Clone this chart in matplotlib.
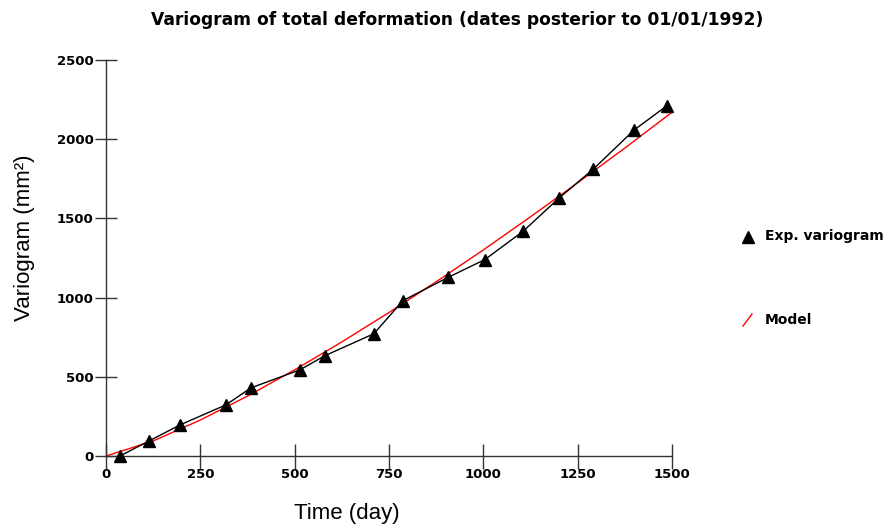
import matplotlib
matplotlib.use("Agg")
import matplotlib.pyplot as plt
from matplotlib.lines import Line2D

exp_days = [37, 114, 196, 318, 384, 514, 580, 710, 787, 906, 1004, 1105, 1200, 1291, 1399, 1487]
exp_values = [0, 95, 196, 323, 430, 544, 633, 772, 981, 1127, 1240, 1418, 1627, 1810, 2057, 2212]

# Model curve
model_days = [0, 125, 250, 375, 500, 625, 750, 875, 1000, 1125, 1250, 1375, 1500]
model_values = [0, 95, 227, 378, 544, 720, 906, 1100, 1301, 1510, 1725, 1944, 2170]

x_ticks = [0, 250, 500, 750, 1000, 1250, 1500]
y_ticks = [0, 500, 1000, 1500, 2000, 2500]

plt.rcParams['font.family'] = ['Liberation Sans', 'DejaVu Sans']
BOLDFONT = ['DejaVu Sans']

fig = plt.figure(figsize=(8.87, 5.25), dpi=100)
ax = fig.add_axes([106/887, 1 - 456/525, (672-106)/887, (456-60)/525])

ax.plot(model_days, model_values, color='red', lw=1.0, zorder=2)
ax.plot(exp_days, exp_values, color='black', lw=1.0, marker='^', markersize=9,
        markerfacecolor='black', markeredgecolor='black', zorder=3, clip_on=False)

ax.set_xlim(0, 1500)
ax.set_ylim(0, 2500)
ax.set_xticks(x_ticks)
ax.set_yticks(y_ticks)
ax.set_xticklabels([str(v) for v in x_ticks], fontweight='bold', fontsize=9.5, family=BOLDFONT)
ax.set_yticklabels([str(v) for v in y_ticks], fontweight='bold', fontsize=9.5, family=BOLDFONT)
ax.tick_params(direction='inout', length=16, width=1, color='#333333', pad=1)
ax.tick_params(axis='x', length=18, pad=0)
for s in ['top', 'right']:
    ax.spines[s].set_visible(False)
for s in ['left', 'bottom']:
    ax.spines[s].set_color('#333333')
    ax.spines[s].set_linewidth(1)

fig.text(347/887, 1 - 513/525, 'Time (day)', ha='center', va='center', fontsize=16)
fig.text(25/887, 1 - 238/525, 'Variogram (mm²)', ha='center', va='center', fontsize=16,
         rotation=90)

fig.text(457/887, 1 - 20/525, 'Variogram of total deformation (dates posterior to 01/01/1992)',
         ha='center', va='center', fontsize=12.3, fontweight='bold', family=BOLDFONT)

# Legend
fig.add_artist(Line2D([748/887], [1 - 237/525], marker='^', markersize=9, color='black',
                      linestyle='none', transform=fig.transFigure))
fig.text(765/887, 1 - 236/525, 'Exp. variogram', ha='left', va='center',
         fontsize=10, fontweight='bold', family=BOLDFONT)
fig.add_artist(Line2D([743/887, 752/887], [1 - 326/525, 1 - 314/525], color='red', lw=1,
                      transform=fig.transFigure))
fig.text(765/887, 1 - 320/525, 'Model', ha='left', va='center',
         fontsize=10, fontweight='bold', family=BOLDFONT)

fig.savefig('out.png', dpi=100)
